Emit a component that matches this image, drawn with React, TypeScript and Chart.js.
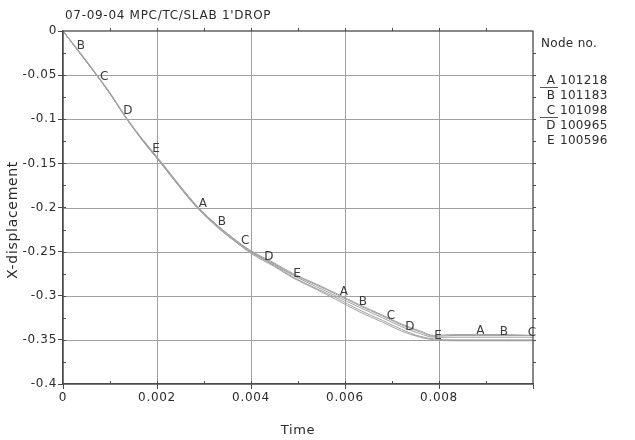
import React, { useEffect, useRef } from "react";
import { Chart, registerables } from "chart.js";

Chart.register(...registerables);

const TITLE = "07-09-04 MPC/TC/SLAB 1'DROP";
const X_TITLE = "Time";
const Y_TITLE = "X-displacement";
const LEGEND_TITLE = "Node no.";
const SERIES_LETTERS = ["A", "B", "C", "D", "E"];
const NODE_IDS = ["101218", "101183", "101098", "100965", "100596"];

const TIME = [0, 0.0003, 0.0007, 0.001, 0.00136, 0.0017, 0.0021, 0.0025, 0.00285, 0.0033, 0.0037, 0.004, 0.0045, 0.0049, 0.0054, 0.0058, 0.0063, 0.0068, 0.0072, 0.0076, 0.0079, 0.0083, 0.0088, 0.0094, 0.01];

const NODE_A = [0, -0.020, -0.048, -0.070, -0.099, -0.123, -0.149, -0.176, -0.198, -0.221, -0.238, -0.249, -0.263, -0.275, -0.287, -0.297, -0.310, -0.322, -0.332, -0.340, -0.345, -0.344, -0.344, -0.344, -0.345];
const NODE_B = [0, -0.021, -0.049, -0.071, -0.100, -0.124, -0.150, -0.177, -0.199, -0.221, -0.238, -0.250, -0.264, -0.276, -0.288, -0.298, -0.311, -0.323, -0.333, -0.341, -0.346, -0.345, -0.345, -0.345, -0.345];
const NODE_C = [0, -0.021, -0.049, -0.071, -0.100, -0.124, -0.150, -0.177, -0.199, -0.222, -0.239, -0.250, -0.265, -0.277, -0.290, -0.300, -0.313, -0.325, -0.335, -0.343, -0.347, -0.347, -0.347, -0.347, -0.347];
const NODE_D = [0, -0.021, -0.049, -0.071, -0.100, -0.124, -0.151, -0.178, -0.200, -0.223, -0.240, -0.251, -0.266, -0.279, -0.292, -0.302, -0.316, -0.328, -0.338, -0.346, -0.349, -0.350, -0.350, -0.350, -0.350];
const NODE_E = [0, -0.021, -0.049, -0.071, -0.100, -0.125, -0.151, -0.178, -0.200, -0.223, -0.240, -0.252, -0.267, -0.280, -0.293, -0.304, -0.318, -0.330, -0.340, -0.347, -0.350, -0.351, -0.351, -0.351, -0.351];

const LABEL_TIMES_A = [0.0029, 0.0059, 0.0088];
const LABEL_TIMES_B = [0.0003, 0.0033, 0.0063, 0.0093];
const LABEL_TIMES_C = [0.0008, 0.0038, 0.0069, 0.0099];
const LABEL_TIMES_D = [0.0013, 0.0043, 0.0073];
const LABEL_TIMES_E = [0.0019, 0.0049, 0.0079];

const X_MIN = 0;
const X_MAX = 0.01;
const X_STEP = 0.002;
const X_MINOR_STEP = 0.001;
const Y_MIN = -0.4;
const Y_MAX = 0;
const Y_STEP = 0.05;
const Y_MINOR_STEP = 0.025;

const SERIES_VALUES = [NODE_A, NODE_B, NODE_C, NODE_D, NODE_E];
const LABEL_TIMES = [LABEL_TIMES_A, LABEL_TIMES_B, LABEL_TIMES_C, LABEL_TIMES_D, LABEL_TIMES_E];

const FONT = "'DejaVu Sans', sans-serif";
const TEXT_COLOR = "#2b2b2b";
const AXIS_COLOR = "#4a4a4a";
const GRID_COLOR = "#a0a0a0";
const LINE_COLOR = "#a0a0a0";

function interp(ts: number[], vs: number[], t: number) {
  for (let i = 0; i < ts.length - 1; i++) {
    if (t >= ts[i] && t <= ts[i + 1]) {
      const f = (t - ts[i]) / (ts[i + 1] - ts[i]);
      return vs[i] + f * (vs[i + 1] - vs[i]);
    }
  }
  return vs[vs.length - 1];
}

const decorPlugin = {
  id: "decor",
  beforeDraw(chart: any) {
    const ctx = chart.ctx;
    try {
      ctx.letterSpacing = "0.7px";
    } catch (e) {}
  },
  beforeDatasetsDraw(chart: any) {
    const ctx = chart.ctx;
    const area = chart.chartArea;
    const xs = chart.scales.x;
    const ys = chart.scales.y;
    ctx.save();
    ctx.strokeStyle = GRID_COLOR;
    ctx.lineWidth = 1;
    ctx.beginPath();
    for (let v = X_MIN + X_STEP; v < X_MAX - 1e-9; v += X_STEP) {
      const px = Math.round(xs.getPixelForValue(v)) + 0.5;
      ctx.moveTo(px, area.top);
      ctx.lineTo(px, area.bottom);
    }
    for (let v = Y_MIN + Y_STEP; v < Y_MAX - 1e-9; v += Y_STEP) {
      const py = Math.round(ys.getPixelForValue(v)) + 0.5;
      ctx.moveTo(area.left, py);
      ctx.lineTo(area.right, py);
    }
    ctx.stroke();
    ctx.restore();
  },
  afterDraw(chart: any) {
    const ctx = chart.ctx;
    const area = chart.chartArea;
    const xs = chart.scales.x;
    const ys = chart.scales.y;
    ctx.save();
    try {
      ctx.letterSpacing = "0.7px";
    } catch (e) {}
    // plot frame
    ctx.strokeStyle = AXIS_COLOR;
    ctx.lineWidth = 1.3;
    ctx.strokeRect(area.left, area.top, area.right - area.left, area.bottom - area.top);

    // minor ticks
    ctx.lineWidth = 1;
    ctx.beginPath();
    for (let v = X_MIN + X_MINOR_STEP; v < X_MAX - 1e-9; v += X_MINOR_STEP) {
      const px = Math.round(xs.getPixelForValue(v)) + 0.5;
      ctx.moveTo(px, area.bottom);
      ctx.lineTo(px, area.bottom - 3);
      ctx.moveTo(px, area.top);
      ctx.lineTo(px, area.top - 3);
    }
    for (let v = Y_MIN + Y_MINOR_STEP; v < Y_MAX - 1e-9; v += Y_MINOR_STEP) {
      const py = Math.round(ys.getPixelForValue(v)) + 0.5;
      ctx.moveTo(area.left, py);
      ctx.lineTo(area.left + 3, py);
      ctx.moveTo(area.right, py);
      ctx.lineTo(area.right + 3, py);
    }
    ctx.stroke();

    // curve letters
    ctx.fillStyle = "#3a3a3a";
    ctx.font = `12px ${FONT}`;
    ctx.textAlign = "center";
    ctx.textBaseline = "middle";
    LABEL_TIMES.forEach((times, i) => {
      times.forEach((t) => {
        const v = interp(TIME, SERIES_VALUES[i], t);
        const px = xs.getPixelForValue(t);
        const py = ys.getPixelForValue(v);
        ctx.fillText(SERIES_LETTERS[i], px + 4, py - 4);
      });
    });

    // title
    ctx.fillStyle = TEXT_COLOR;
    ctx.textAlign = "left";
    ctx.font = `12px ${FONT}`;
    ctx.fillText(TITLE, 65, 16);

    // axis titles
    ctx.font = `13px ${FONT}`;
    ctx.textAlign = "center";
    ctx.fillText(X_TITLE, (area.left + area.right) / 2, 431);
    ctx.save();
    ctx.font = `14px ${FONT}`;
    ctx.translate(13, 220);
    ctx.rotate(-Math.PI / 2);
    ctx.fillText(Y_TITLE, 0, 0);
    ctx.restore();

    // legend
    ctx.font = `12px ${FONT}`;
    try {
      ctx.letterSpacing = "0.3px";
    } catch (e) {}
    ctx.textAlign = "left";
    ctx.fillText(LEGEND_TITLE, 541, 44);
    SERIES_LETTERS.forEach((letter, i) => {
      const y = 81 + i * 15;
      ctx.textAlign = "center";
      ctx.fillText(letter, 551, y);
      ctx.textAlign = "left";
      ctx.fillText(NODE_IDS[i], 560, y);
      if (i === 0 || i === 2) {
        ctx.strokeStyle = "#555";
        ctx.lineWidth = 1;
        ctx.beginPath();
        ctx.moveTo(540, y + 6.5);
        ctx.lineTo(558, y + 6.5);
        ctx.stroke();
      }
    });
    ctx.restore();
  },
};

export default function App() {
  const ref = useRef<HTMLCanvasElement | null>(null);
  useEffect(() => {
    if (!ref.current) return;
    Chart.defaults.font.family = FONT;
    Chart.defaults.font.size = 12;
    Chart.defaults.color = TEXT_COLOR;
    const datasets = SERIES_LETTERS.map((letter, i) => ({
      label: letter,
      data: TIME.map((t, j) => ({ x: t, y: SERIES_VALUES[i][j] })),
      borderColor: LINE_COLOR,
      borderWidth: 1,
      pointRadius: 0,
      fill: false,
      cubicInterpolationMode: "monotone" as const,
    }));
    const chart = new Chart(ref.current, {
      type: "line",
      data: { datasets },
      plugins: [decorPlugin],
      options: {
        animation: false,
        responsive: false,
        events: [],
        layout: { padding: { left: 0, right: 102, top: 31, bottom: 0 } },
        plugins: { legend: { display: false }, tooltip: { enabled: false }, title: { display: false } },
        scales: {
          x: {
            type: "linear",
            min: X_MIN,
            max: X_MAX,
            afterFit: (s: any) => {
              s.height = 56;
            },
            grid: { drawOnChartArea: false, color: AXIS_COLOR, tickColor: AXIS_COLOR, tickLength: 5, lineWidth: 1 },
            border: { display: true, color: AXIS_COLOR, width: 1.3 },
            ticks: {
              stepSize: X_STEP,
              maxRotation: 0,
              autoSkip: false,
              padding: 2,
              color: TEXT_COLOR,
              font: { family: FONT, size: 12 },
              callback: (v: any) => (Number(v) > X_MAX - 1e-9 ? "" : String(Math.round(Number(v) * 10000) / 10000)),
            },
          },
          y: {
            type: "linear",
            min: Y_MIN,
            max: Y_MAX,
            afterFit: (s: any) => {
              s.width = 63;
            },
            grid: { drawOnChartArea: false, color: AXIS_COLOR, tickColor: AXIS_COLOR, tickLength: 5, lineWidth: 1 },
            border: { display: true, color: AXIS_COLOR, width: 1.3 },
            ticks: {
              stepSize: Y_STEP,
              autoSkip: false,
              padding: 1,
              color: TEXT_COLOR,
              font: { family: FONT, size: 12 },
              callback: (v: any) => String(Math.round(Number(v) * 1000) / 1000),
            },
          },
        },
      },
    });
    return () => chart.destroy();
  }, []);
  return (
    <div style={{ position: "absolute", left: 0, top: 0, width: 635, height: 440, background: "#fff" }}>
      <canvas ref={ref} width={635} height={440} style={{ width: 635, height: 440, display: "block" }} />
    </div>
  );
}
